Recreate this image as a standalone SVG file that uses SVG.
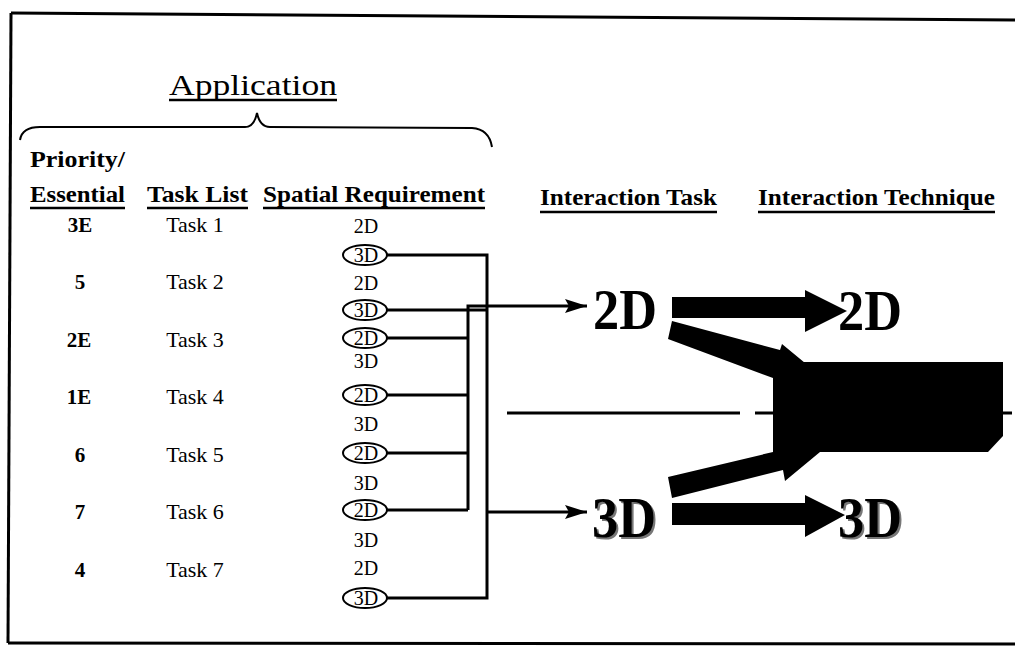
<svg xmlns="http://www.w3.org/2000/svg" width="1015" height="647" viewBox="0 0 1015 647">
<style>
  .t{font-family:"Liberation Serif","Times New Roman",serif;fill:#000}
  .hdr{font-size:23px;font-weight:bold}
  .pri{font-size:21px;font-weight:bold;text-anchor:middle}
  .task{font-size:22px;text-anchor:middle}
  .sp{font-size:20px;text-anchor:middle}
  .big{font-size:56px;font-weight:bold}
  .ul{stroke:#000;stroke-width:2.5;fill:none}
  .ell{fill:none;stroke:#000;stroke-width:2}
  .conn{stroke:#000;stroke-width:3;fill:none}
  .blk{fill:#000;stroke:none}
</style>
<defs>
  <marker id="ah" viewBox="0 0 22 14" refX="22" refY="7" markerWidth="22" markerHeight="14" markerUnits="userSpaceOnUse" orient="auto">
    <path d="M0,0 L22,7 L0,14 L4,7 z" fill="#000"/>
  </marker>
</defs>
<rect width="1015" height="647" fill="#fff"/>

<g id="frame" class="conn">
  <path d="M11,13 L1015,20"/>
  <path d="M11,13 L8,643"/>
  <path d="M8,643 L1015,644"/>
</g>

<g id="application">
  <text class="t" x="169" y="95" font-size="30" textLength="168" lengthAdjust="spacingAndGlyphs">Application</text>
  <line class="ul" x1="169" y1="100" x2="337" y2="100" stroke-width="1.5"/>
  <path d="M20,140 Q22,127 40,127 L245,127 Q254,127 257,113 Q260,127 270,127 L472,128 Q489,129 492,147" fill="none" stroke="#000" stroke-width="2"/>
</g>

<g id="headers">
  <text class="t hdr" x="30" y="167" textLength="95" lengthAdjust="spacingAndGlyphs">Priority/</text>
  <text class="t hdr" x="30" y="202" textLength="95" lengthAdjust="spacingAndGlyphs">Essential</text>
  <line class="ul" x1="30" y1="208" x2="125" y2="208"/>
  <text class="t hdr" x="147" y="202" textLength="101" lengthAdjust="spacingAndGlyphs">Task List</text>
  <line class="ul" x1="147" y1="208" x2="248" y2="208"/>
  <text class="t hdr" x="263" y="202" textLength="222" lengthAdjust="spacingAndGlyphs">Spatial Requirement</text>
  <line class="ul" x1="263" y1="208" x2="485" y2="208"/>
  <text class="t hdr" x="540" y="205" textLength="177" lengthAdjust="spacingAndGlyphs">Interaction Task</text>
  <line class="ul" x1="540" y1="212" x2="717" y2="212"/>
  <text class="t hdr" x="758" y="205" textLength="237" lengthAdjust="spacingAndGlyphs">Interaction Technique</text>
  <line class="ul" x1="758" y1="212" x2="995" y2="212"/>
</g>

<g id="priorities">
  <text class="t pri" x="80" y="232">3E</text>
  <text class="t pri" x="80" y="289">5</text>
  <text class="t pri" x="79" y="347">2E</text>
  <text class="t pri" x="79" y="404">1E</text>
  <text class="t pri" x="80" y="462">6</text>
  <text class="t pri" x="80" y="519">7</text>
  <text class="t pri" x="80" y="577">4</text>
</g>

<g id="tasks">
  <text class="t task" x="195" y="232">Task 1</text>
  <text class="t task" x="195" y="289">Task 2</text>
  <text class="t task" x="195" y="347">Task 3</text>
  <text class="t task" x="195" y="404">Task 4</text>
  <text class="t task" x="195" y="462">Task 5</text>
  <text class="t task" x="195" y="519">Task 6</text>
  <text class="t task" x="195" y="577">Task 7</text>
</g>

<g id="spatial">
  <text class="t sp" x="366" y="233">2D</text>
  <ellipse class="ell" cx="365" cy="255" rx="22" ry="10"/>
  <text class="t sp" x="366" y="262">3D</text>
  <text class="t sp" x="366" y="290">2D</text>
  <ellipse class="ell" cx="365" cy="310" rx="22" ry="10"/>
  <text class="t sp" x="366" y="317">3D</text>
  <ellipse class="ell" cx="365" cy="338" rx="22" ry="10"/>
  <text class="t sp" x="366" y="345">2D</text>
  <text class="t sp" x="366" y="368">3D</text>
  <ellipse class="ell" cx="365" cy="395" rx="22" ry="10"/>
  <text class="t sp" x="366" y="402">2D</text>
  <text class="t sp" x="366" y="431">3D</text>
  <ellipse class="ell" cx="365" cy="453" rx="22" ry="10"/>
  <text class="t sp" x="366" y="460">2D</text>
  <text class="t sp" x="366" y="490">3D</text>
  <ellipse class="ell" cx="365" cy="510" rx="22" ry="10"/>
  <text class="t sp" x="366" y="517">2D</text>
  <text class="t sp" x="366" y="547">3D</text>
  <text class="t sp" x="366" y="575">2D</text>
  <ellipse class="ell" cx="365" cy="598" rx="22" ry="10"/>
  <text class="t sp" x="366" y="605">3D</text>
</g>

<g id="connectors" class="conn">
  <path d="M387,255 H487 V598 H387"/>
  <path d="M387,310 H487"/>
  <path d="M487,512 H587" marker-end="url(#ah)"/>
  <path d="M468,510 V306 H587" marker-end="url(#ah)"/>
  <path d="M387,338 H468"/>
  <path d="M387,395 H468"/>
  <path d="M387,453 H468"/>
  <path d="M387,510 H468"/>
  <path d="M507,413 H740 M755,413 H775 M1000,413 H1012"/>
</g>

<g id="task2d">
  <text class="t big" x="593" y="329" textLength="64" lengthAdjust="spacingAndGlyphs">2D</text>
</g>
<g id="task3d">
  <text class="t big" x="594" y="539" style="fill:#777" textLength="64" lengthAdjust="spacingAndGlyphs">3D</text>
  <text class="t big" x="592" y="537" textLength="64" lengthAdjust="spacingAndGlyphs">3D</text>
</g>

<g id="tech2d">
  <text class="t big" x="838" y="330" textLength="64" lengthAdjust="spacingAndGlyphs">2D</text>
</g>
<g id="tech3d">
  <text class="t big" x="840" y="539" style="fill:#777" textLength="64" lengthAdjust="spacingAndGlyphs">3D</text>
  <text class="t big" x="838" y="537" textLength="64" lengthAdjust="spacingAndGlyphs">3D</text>
</g>

<g id="bigarrows">
  <polygon class="blk" points="672,297 805,297 805,290 847,311 805,332 805,318 672,318"/>
  <polygon class="blk" points="672,503 805,503 805,495 845,515 805,537 805,525 672,525"/>
  <polygon class="blk" points="672,321 780,350 782,344 805,363 773,378 668,339"/>
  <polygon class="blk" points="668,477 773,452 820,452 785,481 783,470 672,498"/>
</g>

<g id="hybrid">
  <polygon class="blk" points="773,362 1003,362 1003,436 988,452 773,452"/>
</g>
</svg>
